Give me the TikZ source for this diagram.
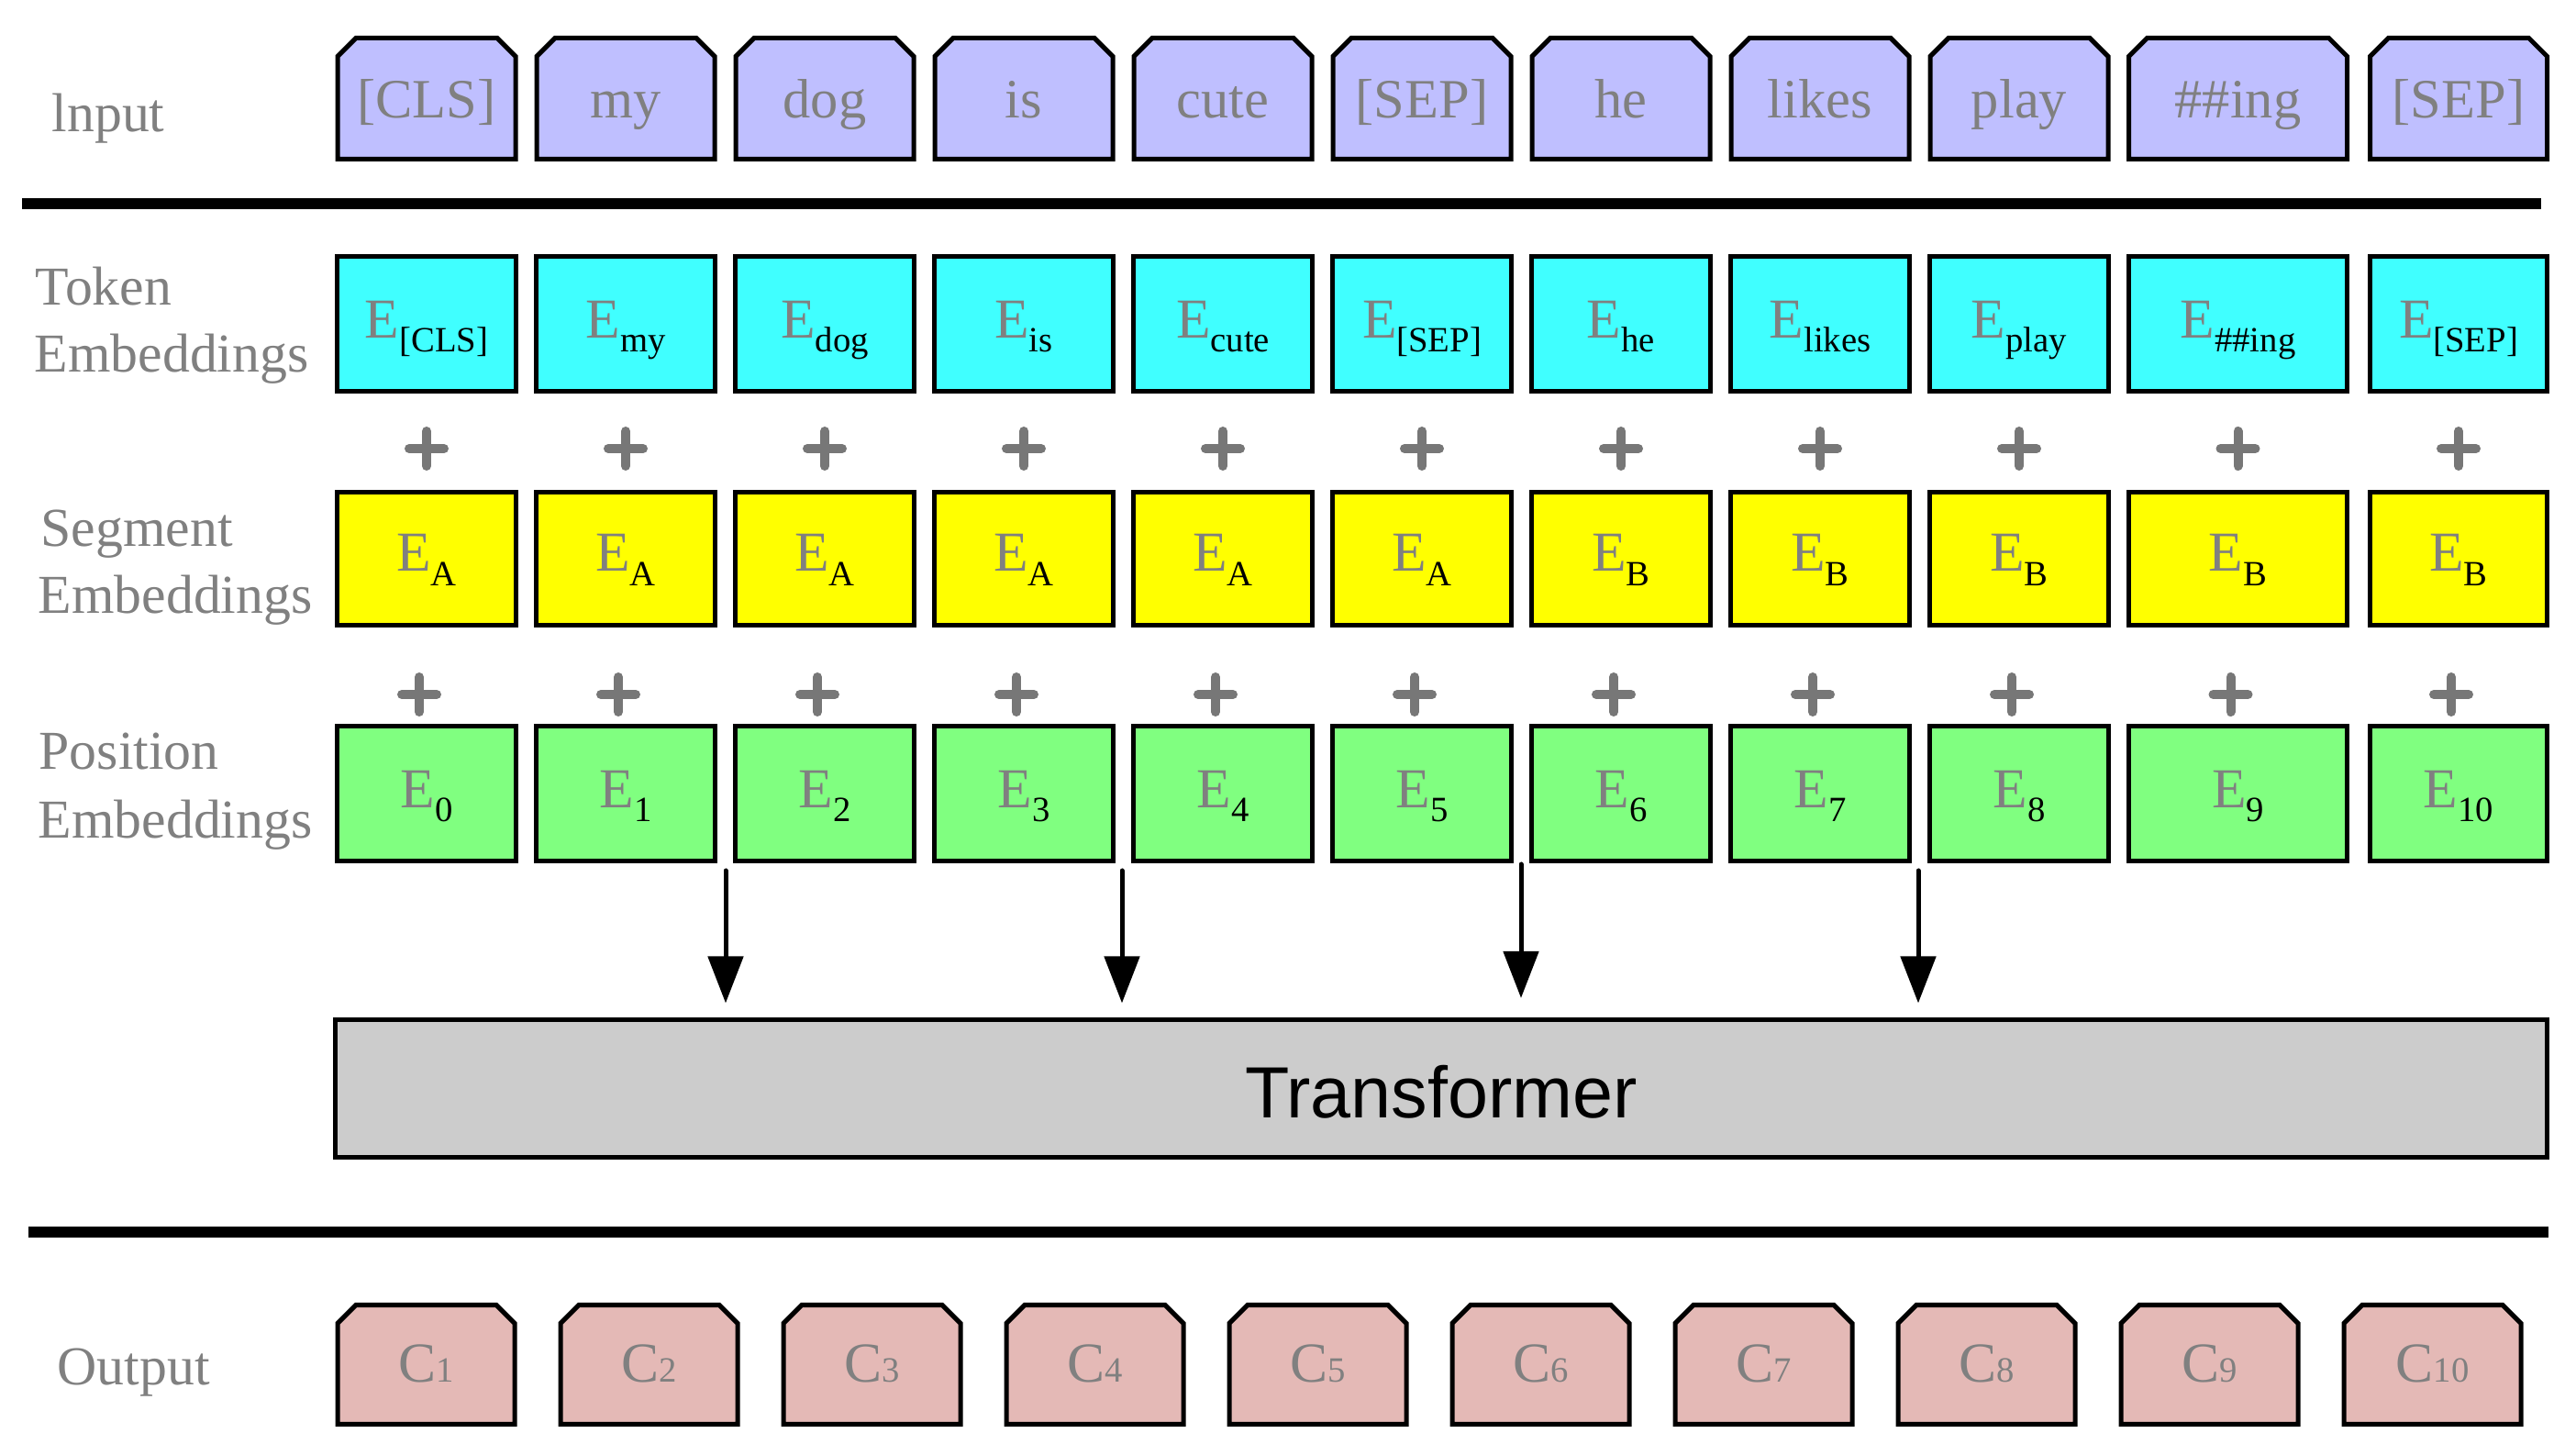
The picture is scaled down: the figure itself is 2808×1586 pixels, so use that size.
\documentclass[tikz,border=0pt]{standalone}
\usepackage{fontspec}
\setmainfont{Liberation Serif}
\newfontfamily\sansf{Liberation Sans}
\usetikzlibrary{arrows.meta}
\definecolor{inpc}{RGB}{191,191,255}
\definecolor{tokc}{RGB}{64,255,255}
\definecolor{segc}{RGB}{255,255,0}
\definecolor{posc}{RGB}{128,255,128}
\definecolor{outc}{RGB}{228,185,182}
\definecolor{trc}{RGB}{204,204,204}
\definecolor{txtg}{RGB}{128,128,128}
\definecolor{plusg}{RGB}{119,119,119}
\newcommand\Esub[1]{E\raisebox{-4.3pt}{\fontsize{11}{11}\selectfont\color{black}#1}}
\newcommand\Csub[1]{C{\fontsize{11}{11}\selectfont #1}}
\begin{document}
\begin{tikzpicture}[x=0.01cm,y=-0.01cm,
  bx/.style={draw=black, line width=0.05cm, inner sep=0pt, minimum width=1.94cm, text=txtg, font=\fontsize{17.5}{18}\selectfont},
  tokbox/.style={bx, fill=tokc, minimum height=1.47cm, text height=12pt, text depth=3.46pt},
  segbox/.style={bx, fill=segc, minimum height=1.45cm, text height=12pt, text depth=4.04pt},
  posbox/.style={bx, fill=posc, minimum height=1.47cm, text height=12pt, text depth=3.46pt},
  chamf/.style={draw=black, line width=0.05cm, line join=miter},
  inptext/.style={inner sep=0pt, text=txtg, font=\fontsize{17.2}{18}\selectfont, text height=12.2pt, text depth=0pt, minimum height=1.32cm},
  outtext/.style={inner sep=0pt, text=txtg, font=\fontsize{17.5}{18}\selectfont, text height=12pt, text depth=1pt, minimum height=1.30cm, minimum width=1.92cm},
  lbl/.style={anchor=base west, inner sep=0pt, text=txtg, font=\fontsize{17}{17}\selectfont},
  sepline/.style={line width=0.12cm},
  plus/.style={draw=plusg, line width=0.1cm, line cap=round},
  arr/.style={line width=0.05cm, line cap=round, -{Triangle[length=0.51cm,width=0.38cm]}}
]
\useasboundingbox (0,0) rectangle (2808,1586);

% labels
\node[lbl] (linput) at (56,144) {lnput};
\node[lbl] (ltok1) at (38,333) {Token};
\node[lbl] (ltok2) at (37,406) {Embeddings};
\node[lbl] (lseg1) at (44,596) {Segment};
\node[lbl] (lseg2) at (41,669) {Embeddings};
\node[lbl] (lpos1) at (42,839) {Position};
\node[lbl] (lpos2) at (41,914) {Embeddings};
\node[lbl] (lout) at (62,1509) {Output};

% input row
\foreach \i/\cx/\w/\txt in {1/465/194/{[CLS]},2/682/194/my,3/899/194/dog,4/1116/194/is,5/1333/194/cute,6/1550/194/{[SEP]},7/1767/194/he,8/1984/194/likes,9/2201/194/play,10/2439.5/238/{\#\#ing},11/2680/193/{[SEP]}}{
  \draw[chamf, fill=inpc] ({\cx-\w/2},173.5) -- ({\cx-\w/2},61.5) -- ({\cx-\w/2+20},41.5) -- ({\cx+\w/2-20},41.5) -- ({\cx+\w/2},61.5) -- ({\cx+\w/2},173.5) -- cycle;
  \node[inptext, minimum width=\w*0.01cm] (in\i) at (\cx,107.5) {\txt};
}

% separators
\coordinate (s1a) at (24,222); \coordinate (s1b) at (2770,222);
\draw[sepline] (s1a) -- (s1b);
\coordinate (s2a) at (31,1343); \coordinate (s2b) at (2778,1343);
\draw[sepline] (s2a) -- (s2b);

% token embeddings
\foreach \i/\cx/\w/\s in {1/465/1.94/{[CLS]},2/682/1.94/my,3/899/1.94/dog,4/1116/1.94/is,5/1333/1.94/cute,6/1550/1.94/{[SEP]},7/1767/1.94/he,8/1984/1.94/likes,9/2201/1.94/play,10/2439.5/2.38/{\#\#ing},11/2680/1.93/{[SEP]}}{
  \node[tokbox, minimum width=\w cm] (tok\i) at (\cx,353) {\Esub{\s}};
}

% segment embeddings
\foreach \i/\cx/\w/\s in {1/465/1.94/A,2/682/1.94/A,3/899/1.94/A,4/1116/1.94/A,5/1333/1.94/A,6/1550/1.94/A,7/1767/1.94/B,8/1984/1.94/B,9/2201/1.94/B,10/2439.5/2.38/B,11/2680/1.93/B}{
  \node[segbox, minimum width=\w cm] (seg\i) at (\cx,609) {\Esub{\s}};
}

% position embeddings
\foreach \i/\cx/\w/\s in {1/465/1.94/0,2/682/1.94/1,3/899/1.94/2,4/1116/1.94/3,5/1333/1.94/4,6/1550/1.94/5,7/1767/1.94/6,8/1984/1.94/7,9/2201/1.94/8,10/2439.5/2.38/9,11/2680/1.93/10}{
  \node[posbox, minimum width=\w cm] (pos\i) at (\cx,865) {\Esub{\s}};
}

% plus signs
\foreach \x in {465,682,899,1116,1333,1550,1767,1984,2201,2439.5,2680}{
  \draw[plus] ({\x-19},489) -- ({\x+19},489) (\x,470) -- (\x,508);
  \draw[plus] ({\x-27},757) -- ({\x+11},757) ({\x-8},738) -- ({\x-8},776);
}

% transformer
\node[draw=black, line width=0.05cm, fill=trc, minimum width=24.09cm, minimum height=1.50cm, inner sep=0pt,
      font=\sansf\fontsize{22.5}{22.5}\selectfont, text height=18.2pt, text depth=0pt] (tr) at (1571,1186.5) {Transformer};

% arrows
\coordinate (a1) at (791,949);
\coordinate (a2) at (1223,949);
\coordinate (a3) at (1658,942);
\coordinate (a4) at (2091,949);
\draw[arr, shorten >=0.155cm] (a1) -- (a1 |- tr.north);
\draw[arr, shorten >=0.155cm] (a2) -- (a2 |- tr.north);
\draw[arr, shorten >=0.21cm] (a3) -- (a3 |- tr.north);
\draw[arr, shorten >=0.155cm] (a4) -- (a4 |- tr.north);

% output row
\foreach \i in {1,...,10}{
  \pgfmathsetmacro\cx{464.5+243*(\i-1)}
  \draw[chamf, fill=outc] ({\cx-96.5},1552.5) -- ({\cx-96.5},1442.5) -- ({\cx-76.5},1422.5) -- ({\cx+76.5},1422.5) -- ({\cx+96.5},1442.5) -- ({\cx+96.5},1552.5) -- cycle;
  \node[outtext] (out\i) at (\cx,1487.5) {\Csub{\i}};
}
\end{tikzpicture}
\end{document}
